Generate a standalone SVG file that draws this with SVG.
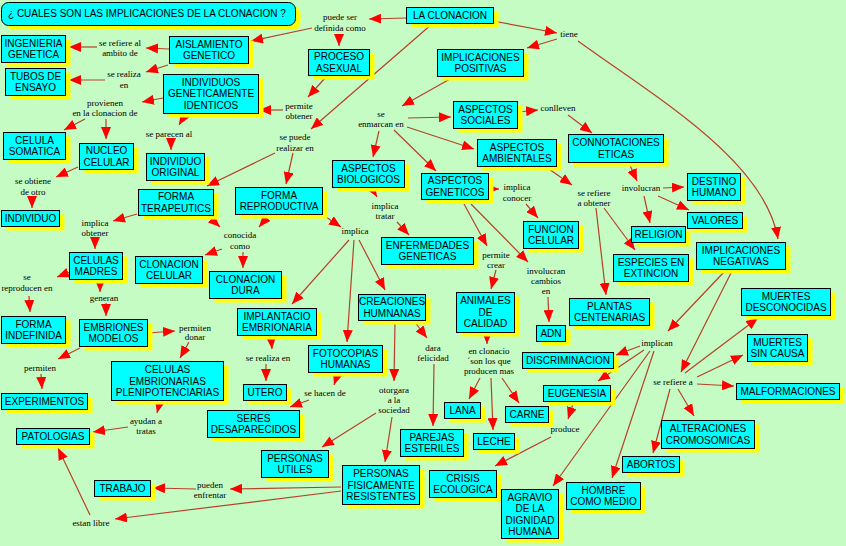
<svg xmlns="http://www.w3.org/2000/svg" width="846" height="546" viewBox="0 0 846 546">
<style>
.s{fill:#FFFF00}
.b{fill:#00FFFF;stroke:#000;stroke-width:1}
.t{font-family:"Liberation Sans",Arial,sans-serif;font-size:10px;fill:#000;text-anchor:middle}
.l{font-family:"Liberation Serif","Times New Roman",serif;font-size:9px;fill:#000;text-anchor:middle}
.c path{fill:none;stroke:#B8402A;stroke-width:1.2;marker-end:url(#a)}
</style>
<defs>
<marker id="a" viewBox="0 0 12 10" refX="12" refY="5" markerWidth="12" markerHeight="10" markerUnits="userSpaceOnUse" orient="auto"><path d="M0,0L12,5L0,10z" fill="#FF0000"/></marker>
</defs>
<rect width="846" height="546" fill="#C4FCC4"/>
<g id="title"><rect class="s" x="6.5" y="6.5" width="294" height="23" rx="7"/><rect class="b" x="1.5" y="2.5" width="294" height="23" rx="7"/><text class="t" x="8" y="17" style="text-anchor:start">¿ CUALES SON LAS IMPLICACIONES DE LA CLONACION ?</text></g>

<g class="c" id="connectors">
<path d="M406,18L369,19"/>
<path d="M312,28L251,41"/>
<path d="M339,34L339,46"/>
<path d="M493,21L557,33"/>
<path d="M557,39L527,48"/>
<path d="M578,41C652,95 765,160 778,239"/>
<path d="M432,24L311,129"/>
<path d="M326,77L308,97"/>
<path d="M283,110L259,110"/>
<path d="M169,49L146,48"/>
<path d="M97,47L69,47"/>
<path d="M168,65L146,72"/>
<path d="M105,80L69,80"/>
<path d="M163,98L142,102"/>
<path d="M85,119L64,130"/>
<path d="M106,119L106,139"/>
<path d="M186,113L179,125"/>
<path d="M171,138L171,150"/>
<path d="M78,167L56,177"/>
<path d="M32,196L32,208"/>
<path d="M450,79L402,106"/>
<path d="M408,118L451,117"/>
<path d="M407,127L474,149"/>
<path d="M379,131L373,157"/>
<path d="M394,130L436,171"/>
<path d="M518,112L538,110"/>
<path d="M568,115L592,133"/>
<path d="M629,163L637,181"/>
<path d="M663,188L684,187"/>
<path d="M658,196L689,210"/>
<path d="M644,196L650,223"/>
<path d="M546,167L572,185"/>
<path d="M596,208L606,295"/>
<path d="M604,208L635,250"/>
<path d="M371,187L377,197"/>
<path d="M397,222L409,235"/>
<path d="M488,189L499,189"/>
<path d="M526,204L538,218"/>
<path d="M464,204L487,246"/>
<path d="M471,204L528,262"/>
<path d="M496,270L491,289"/>
<path d="M548,297L549,322"/>
<path d="M487,332L487,344"/>
<path d="M480,378L469,399"/>
<path d="M491,378L493,430"/>
<path d="M502,378L519,403"/>
<path d="M137,214L113,221"/>
<path d="M95,238L95,249"/>
<path d="M275,153L207,186"/>
<path d="M293,153L286,184"/>
<path d="M207,215L220,227"/>
<path d="M270,214L259,227"/>
<path d="M222,249L205,255"/>
<path d="M243,252L243,268"/>
<path d="M320,213L341,227"/>
<path d="M349,240L292,304"/>
<path d="M354,240L347,342"/>
<path d="M359,240L385,290"/>
<path d="M271,336L272,349"/>
<path d="M266,364L266,381"/>
<path d="M338,373L334,385"/>
<path d="M309,400L290,407"/>
<path d="M395,321L394,381"/>
<path d="M414,321L427,338"/>
<path d="M434,364L433,426"/>
<path d="M376,413L322,447"/>
<path d="M392,417L385,462"/>
<path d="M341,487L230,489"/>
<path d="M196,489L153,488"/>
<path d="M341,491L115,519"/>
<path d="M90,515L58,448"/>
<path d="M70,272L57,277"/>
<path d="M29,296L30,312"/>
<path d="M100,280L100,292"/>
<path d="M106,303L106,316"/>
<path d="M148,333L175,331"/>
<path d="M189,342L180,358"/>
<path d="M80,348L58,359"/>
<path d="M41,374L42,389"/>
<path d="M160,401L157,413"/>
<path d="M128,427L93,432"/>
<path d="M725,271L668,331"/>
<path d="M732,271L681,372"/>
<path d="M640,346L616,355"/>
<path d="M644,350L598,381"/>
<path d="M650,351L553,486"/>
<path d="M654,351L612,478"/>
<path d="M574,401L568,419"/>
<path d="M551,437L495,466"/>
<path d="M697,384L734,386"/>
<path d="M697,377L743,355"/>
<path d="M685,373L758,318"/>
<path d="M678,389L694,416"/>
<path d="M670,389L653,453"/>
</g>

<g id="labels">
<text class="l" x="340" y="20">puede ser<tspan x="340" y="31">definida como</tspan></text>
<text class="l" x="120" y="46">se refiere al<tspan x="120" y="56">ambito de</tspan></text>
<text class="l" x="124" y="77">se realiza<tspan x="124" y="88">en</tspan></text>
<text class="l" x="105" y="106">provienen<tspan x="105" y="116">en la clonacion de</tspan></text>
<text class="l" x="169" y="137">se parecen al</text>
<text class="l" x="33" y="184">se obtiene<tspan x="33" y="195">de otro</tspan></text>
<text class="l" x="299" y="109">permite<tspan x="299" y="119">obtener</tspan></text>
<text class="l" x="295" y="140">se puede<tspan x="295" y="151">realizar en</tspan></text>
<text class="l" x="381" y="117">se<tspan x="381" y="127">enmarcan en</tspan></text>
<text class="l" x="569" y="37">tiene</text>
<text class="l" x="558" y="111">conlleven</text>
<text class="l" x="95" y="226">implica<tspan x="95" y="236">obtener</tspan></text>
<text class="l" x="27" y="280">se<tspan x="27" y="291">reproducen en</tspan></text>
<text class="l" x="104" y="301">generan</text>
<text class="l" x="195" y="331">permiten<tspan x="195" y="340">donar</tspan></text>
<text class="l" x="240" y="238">conocida<tspan x="240" y="249">como</tspan></text>
<text class="l" x="355" y="234">implica</text>
<text class="l" x="385" y="209">implica<tspan x="385" y="219">tratar</tspan></text>
<text class="l" x="517" y="190">implica<tspan x="517" y="201">conocer</tspan></text>
<text class="l" x="594" y="196">se refiere<tspan x="594" y="206">a obtener</tspan></text>
<text class="l" x="641" y="191">involucran</text>
<text class="l" x="496" y="258">permite<tspan x="496" y="268">crear</tspan></text>
<text class="l" x="546" y="274">involucran<tspan x="546" y="284">cambios</tspan><tspan x="546" y="294">en</tspan></text>
<text class="l" x="489" y="354">en clonacio<tspan x="489" y="364">´son los que</tspan><tspan x="489" y="374">producen mas</tspan></text>
<text class="l" x="433" y="351">dara<tspan x="433" y="361">felicidad</tspan></text>
<text class="l" x="657" y="346">implican</text>
<text class="l" x="673" y="385">se refiere a</text>
<text class="l" x="268" y="361">se realiza en</text>
<text class="l" x="325" y="396">se hacen de</text>
<text class="l" x="394" y="393">otorgara<tspan x="394" y="403">a la</tspan><tspan x="394" y="413">sociedad</tspan></text>
<text class="l" x="565" y="432">produce</text>
<text class="l" x="40" y="371">permiten</text>
<text class="l" x="146" y="424">ayudan a<tspan x="146" y="434">tratas</tspan></text>
<text class="l" x="210" y="488">pueden<tspan x="210" y="498">enfrentar</tspan></text>
<text class="l" x="91" y="526">estan libre</text>
</g>

<g id="n1"><rect class="s" x="411.5" y="11.5" width="87" height="16"/><rect class="b" x="406.5" y="7.5" width="87" height="16"/><text class="t" x="450" y="19">LA CLONACION</text></g>
<g id="n2"><rect class="s" x="6.5" y="39.5" width="64" height="27"/><rect class="b" x="1.5" y="35.5" width="64" height="27"/><text class="t" x="33.5" y="46.5">INGENIERIA<tspan x="33.5" y="58">GENETICA</tspan></text></g>
<g id="n3"><rect class="s" x="174.5" y="40.5" width="79" height="27"/><rect class="b" x="169.5" y="36.5" width="79" height="27"/><text class="t" x="209" y="47.5">AISLAMIENTO<tspan x="209" y="59">GENETICO</tspan></text></g>
<g id="n4"><rect class="s" x="313.5" y="53.5" width="61" height="26"/><rect class="b" x="308.5" y="49.5" width="61" height="26"/><text class="t" x="339" y="60">PROCESO<tspan x="339" y="71.5">ASEXUAL</tspan></text></g>
<g id="n5"><rect class="s" x="442.5" y="53.5" width="86" height="27"/><rect class="b" x="437.5" y="49.5" width="86" height="27"/><text class="t" x="480.5" y="60.5">IMPLICACIONES<tspan x="480.5" y="72">POSITIVAS</tspan></text></g>
<g id="n6"><rect class="s" x="10.5" y="72.5" width="60" height="27"/><rect class="b" x="5.5" y="68.5" width="60" height="27"/><text class="t" x="35.5" y="79.5">TUBOS DE<tspan x="35.5" y="91">ENSAYO</tspan></text></g>
<g id="n7"><rect class="s" x="168.5" y="78.5" width="95" height="39"/><rect class="b" x="163.5" y="74.5" width="95" height="39"/><text class="t" x="211" y="85.5">INDIVIDUOS<tspan x="211" y="97">GENETICAMENTE</tspan><tspan x="211" y="108.5">IDENTICOS</tspan></text></g>
<g id="n8"><rect class="s" x="458.5" y="105.5" width="64" height="27"/><rect class="b" x="453.5" y="101.5" width="64" height="27"/><text class="t" x="485.5" y="112.5">ASPECTOS<tspan x="485.5" y="124">SOCIALES</tspan></text></g>
<g id="n9"><rect class="s" x="8.5" y="136.5" width="62" height="27"/><rect class="b" x="3.5" y="132.5" width="62" height="27"/><text class="t" x="34.5" y="143.5">CELULA<tspan x="34.5" y="155">SOMATICA</tspan></text></g>
<g id="n10"><rect class="s" x="84.5" y="147.5" width="54" height="26"/><rect class="b" x="79.5" y="143.5" width="54" height="26"/><text class="t" x="106.5" y="154">NUCLEO<tspan x="106.5" y="165.5">CELULAR</tspan></text></g>
<g id="n11"><rect class="s" x="151.5" y="157.5" width="58" height="27"/><rect class="b" x="146.5" y="153.5" width="58" height="27"/><text class="t" x="175.5" y="164.5">INDIVIDUO<tspan x="175.5" y="176">ORIGINAL</tspan></text></g>
<g id="n12"><rect class="s" x="573.5" y="138.5" width="95" height="28"/><rect class="b" x="568.5" y="134.5" width="95" height="28"/><text class="t" x="616" y="146">CONNOTACIONES<tspan x="616" y="157.5">ETICAS</tspan></text></g>
<g id="n13"><rect class="s" x="482.5" y="143.5" width="79" height="27"/><rect class="b" x="477.5" y="139.5" width="79" height="27"/><text class="t" x="517" y="150.5">ASPECTOS<tspan x="517" y="162">AMBIENTALES</tspan></text></g>
<g id="n14"><rect class="s" x="337.5" y="164.5" width="72" height="27"/><rect class="b" x="332.5" y="160.5" width="72" height="27"/><text class="t" x="368.5" y="171.5">ASPECTOS<tspan x="368.5" y="183">BIOLOGICOS</tspan></text></g>
<g id="n15"><rect class="s" x="426.5" y="177.5" width="67" height="26"/><rect class="b" x="421.5" y="173.5" width="67" height="26"/><text class="t" x="455" y="184">ASPECTOS<tspan x="455" y="195.5">GENETICOS</tspan></text></g>
<g id="n16"><rect class="s" x="692.5" y="177.5" width="53" height="27"/><rect class="b" x="687.5" y="173.5" width="53" height="27"/><text class="t" x="714" y="184.5">DESTINO<tspan x="714" y="196">HUMANO</tspan></text></g>
<g id="n17"><rect class="s" x="6.5" y="214.5" width="58" height="16"/><rect class="b" x="1.5" y="210.5" width="58" height="16"/><text class="t" x="30.5" y="222">INDIVIDUO</text></g>
<g id="n18"><rect class="s" x="143.5" y="193.5" width="75" height="26"/><rect class="b" x="138.5" y="189.5" width="75" height="26"/><text class="t" x="176" y="200">FORMA<tspan x="176" y="211.5">TERAPEUTICS</tspan></text></g>
<g id="n19"><rect class="s" x="240.5" y="191.5" width="87" height="27"/><rect class="b" x="235.5" y="187.5" width="87" height="27"/><text class="t" x="279" y="198.5">FORMA<tspan x="279" y="210">REPRODUCTIVA</tspan></text></g>
<g id="n20"><rect class="s" x="692.5" y="216.5" width="55" height="16"/><rect class="b" x="687.5" y="212.5" width="55" height="16"/><text class="t" x="715" y="224">VALORES</text></g>
<g id="n21"><rect class="s" x="528.5" y="225.5" width="55" height="27"/><rect class="b" x="523.5" y="221.5" width="55" height="27"/><text class="t" x="551" y="232.5">FUNCION<tspan x="551" y="244">CELULAR</tspan></text></g>
<g id="n22"><rect class="s" x="636.5" y="230.5" width="54" height="16"/><rect class="b" x="631.5" y="226.5" width="54" height="16"/><text class="t" x="658.5" y="238">RELIGION</text></g>
<g id="n23"><rect class="s" x="386.5" y="241.5" width="92" height="27"/><rect class="b" x="381.5" y="237.5" width="92" height="27"/><text class="t" x="427.5" y="248.5">ENFERMEDADES<tspan x="427.5" y="260">GENETICAS</tspan></text></g>
<g id="n24"><rect class="s" x="701.5" y="246.5" width="89" height="27"/><rect class="b" x="696.5" y="242.5" width="89" height="27"/><text class="t" x="741" y="253.5">IMPLICACIONES<tspan x="741" y="265">NEGATIVAS</tspan></text></g>
<g id="n25"><rect class="s" x="74.5" y="256.5" width="53" height="27"/><rect class="b" x="69.5" y="252.5" width="53" height="27"/><text class="t" x="96" y="263.5">CELULAS<tspan x="96" y="275">MADRES</tspan></text></g>
<g id="n26"><rect class="s" x="140.5" y="260.5" width="67" height="27"/><rect class="b" x="135.5" y="256.5" width="67" height="27"/><text class="t" x="169" y="267.5">CLONACION<tspan x="169" y="279">CELULAR</tspan></text></g>
<g id="n27"><rect class="s" x="618.5" y="258.5" width="75" height="27"/><rect class="b" x="613.5" y="254.5" width="75" height="27"/><text class="t" x="651" y="265.5">ESPECIES EN<tspan x="651" y="277">EXTINCION</tspan></text></g>
<g id="n28"><rect class="s" x="214.5" y="275.5" width="72" height="27"/><rect class="b" x="209.5" y="271.5" width="72" height="27"/><text class="t" x="245.5" y="282.5">CLONACION<tspan x="245.5" y="294">DURA</tspan></text></g>
<g id="n29"><rect class="s" x="461.5" y="296.5" width="58" height="40"/><rect class="b" x="456.5" y="292.5" width="58" height="40"/><text class="t" x="485.5" y="304">ANIMALES<tspan x="485.5" y="315.5">DE</tspan><tspan x="485.5" y="327">CALIDAD</tspan></text></g>
<g id="n30"><rect class="s" x="746.5" y="292.5" width="89" height="27"/><rect class="b" x="741.5" y="288.5" width="89" height="27"/><text class="t" x="786" y="299.5">MUERTES<tspan x="786" y="311">DESCONOCIDAS</tspan></text></g>
<g id="n31"><rect class="s" x="574.5" y="302.5" width="80" height="27"/><rect class="b" x="569.5" y="298.5" width="80" height="27"/><text class="t" x="609.5" y="309.5">PLANTAS<tspan x="609.5" y="321">CENTENARIAS</tspan></text></g>
<g id="n32"><rect class="s" x="6.5" y="320.5" width="64" height="27"/><rect class="b" x="1.5" y="316.5" width="64" height="27"/><text class="t" x="33.5" y="327.5">FORMA<tspan x="33.5" y="339">INDEFINIDA</tspan></text></g>
<g id="n33"><rect class="s" x="84.5" y="323.5" width="68" height="27"/><rect class="b" x="79.5" y="319.5" width="68" height="27"/><text class="t" x="113.5" y="330.5">EMBRIONES<tspan x="113.5" y="342">MODELOS</tspan></text></g>
<g id="n34"><rect class="s" x="242.5" y="312.5" width="79" height="27"/><rect class="b" x="237.5" y="308.5" width="79" height="27"/><text class="t" x="277" y="319.5">IMPLANTACIO<tspan x="277" y="331">EMBRIONARIA</tspan></text></g>
<g id="n35"><rect class="s" x="363.5" y="298.5" width="67" height="26"/><rect class="b" x="358.5" y="294.5" width="67" height="26"/><text class="t" x="392" y="305">CREACIONES<tspan x="392" y="316.5">HUMNANAS</tspan></text></g>
<g id="n36"><rect class="s" x="541.5" y="329.5" width="29" height="16"/><rect class="b" x="536.5" y="325.5" width="29" height="16"/><text class="t" x="551" y="337">ADN</text></g>
<g id="n37"><rect class="s" x="752.5" y="338.5" width="60" height="27"/><rect class="b" x="747.5" y="334.5" width="60" height="27"/><text class="t" x="777.5" y="345.5">MUERTES<tspan x="777.5" y="357">SIN CAUSA</tspan></text></g>
<g id="n38"><rect class="s" x="313.5" y="349.5" width="74" height="27"/><rect class="b" x="308.5" y="345.5" width="74" height="27"/><text class="t" x="345.5" y="356.5">FOTOCOPIAS<tspan x="345.5" y="368">HUMANAS</tspan></text></g>
<g id="n39"><rect class="s" x="527.5" y="356.5" width="91" height="16"/><rect class="b" x="522.5" y="352.5" width="91" height="16"/><text class="t" x="568" y="364">DISCRIMINACION</text></g>
<g id="n40"><rect class="s" x="116.5" y="365.5" width="112" height="39"/><rect class="b" x="111.5" y="361.5" width="112" height="39"/><text class="t" x="167.5" y="373">CELULAS<tspan x="167.5" y="384.5">EMBRIONARIAS</tspan><tspan x="167.5" y="396">PLENIPOTENCIARIAS</tspan></text></g>
<g id="n41"><rect class="s" x="6.5" y="397.5" width="86" height="16"/><rect class="b" x="1.5" y="393.5" width="86" height="16"/><text class="t" x="44.5" y="405">EXPERIMENTOS</text></g>
<g id="n42"><rect class="s" x="248.5" y="388.5" width="43" height="16"/><rect class="b" x="243.5" y="384.5" width="43" height="16"/><text class="t" x="265" y="396">UTERO</text></g>
<g id="n43"><rect class="s" x="741.5" y="387.5" width="103" height="16"/><rect class="b" x="736.5" y="383.5" width="103" height="16"/><text class="t" x="788" y="395">MALFORMACIONES</text></g>
<g id="n44"><rect class="s" x="548.5" y="389.5" width="67" height="16"/><rect class="b" x="543.5" y="385.5" width="67" height="16"/><text class="t" x="577" y="397">EUGENESIA</text></g>
<g id="n45"><rect class="s" x="449.5" y="406.5" width="36" height="16"/><rect class="b" x="444.5" y="402.5" width="36" height="16"/><text class="t" x="462.5" y="414">LANA</text></g>
<g id="n46"><rect class="s" x="510.5" y="410.5" width="43" height="16"/><rect class="b" x="505.5" y="406.5" width="43" height="16"/><text class="t" x="527" y="418">CARNE</text></g>
<g id="n47"><rect class="s" x="212.5" y="414.5" width="92" height="27"/><rect class="b" x="207.5" y="410.5" width="92" height="27"/><text class="t" x="253.5" y="421.5">SERES<tspan x="253.5" y="433">DESAPARECIDOS</tspan></text></g>
<g id="n48"><rect class="s" x="666.5" y="424.5" width="93" height="28"/><rect class="b" x="661.5" y="420.5" width="93" height="28"/><text class="t" x="708" y="432">ALTERACIONES<tspan x="708" y="443.5">CROMOSOMICAS</tspan></text></g>
<g id="n49"><rect class="s" x="21.5" y="432.5" width="73" height="16"/><rect class="b" x="16.5" y="428.5" width="73" height="16"/><text class="t" x="53" y="440">PATOLOGIAS</text></g>
<g id="n50"><rect class="s" x="405.5" y="433.5" width="63" height="27"/><rect class="b" x="400.5" y="429.5" width="63" height="27"/><text class="t" x="432" y="440.5">PAREJAS<tspan x="432" y="452">ESTERILES</tspan></text></g>
<g id="n51"><rect class="s" x="478.5" y="437.5" width="41" height="16"/><rect class="b" x="473.5" y="433.5" width="41" height="16"/><text class="t" x="494" y="445">LECHE</text></g>
<g id="n52"><rect class="s" x="266.5" y="454.5" width="67" height="27"/><rect class="b" x="261.5" y="450.5" width="67" height="27"/><text class="t" x="295" y="461.5">PERSONAS<tspan x="295" y="473">UTILES</tspan></text></g>
<g id="n53"><rect class="s" x="627.5" y="460.5" width="57" height="16"/><rect class="b" x="622.5" y="456.5" width="57" height="16"/><text class="t" x="651" y="468">ABORTOS</text></g>
<g id="n54"><rect class="s" x="434.5" y="474.5" width="67" height="27"/><rect class="b" x="429.5" y="470.5" width="67" height="27"/><text class="t" x="463" y="481.5">CRISIS<tspan x="463" y="493">ECOLOGICA</tspan></text></g>
<g id="n55"><rect class="s" x="347.5" y="469.5" width="77" height="39"/><rect class="b" x="342.5" y="465.5" width="77" height="39"/><text class="t" x="381" y="477">PERSONAS<tspan x="381" y="488.5">FISICAMENTE</tspan><tspan x="381" y="500">RESISTENTES</tspan></text></g>
<g id="n56"><rect class="s" x="571.5" y="486.5" width="74" height="27"/><rect class="b" x="566.5" y="482.5" width="74" height="27"/><text class="t" x="603.5" y="493.5">HOMBRE<tspan x="603.5" y="505">COMO MEDIO</tspan></text></g>
<g id="n57"><rect class="s" x="99.5" y="484.5" width="56" height="16"/><rect class="b" x="94.5" y="480.5" width="56" height="16"/><text class="t" x="122.5" y="492">TRABAJO</text></g>
<g id="n58"><rect class="s" x="506.5" y="493.5" width="57" height="49"/><rect class="b" x="501.5" y="489.5" width="57" height="49"/><text class="t" x="530" y="500.5">AGRAVIO<tspan x="530" y="512">DE LA</tspan><tspan x="530" y="523.5">DIGNIDAD</tspan><tspan x="530" y="535">HUMANA</tspan></text></g>
</svg>
